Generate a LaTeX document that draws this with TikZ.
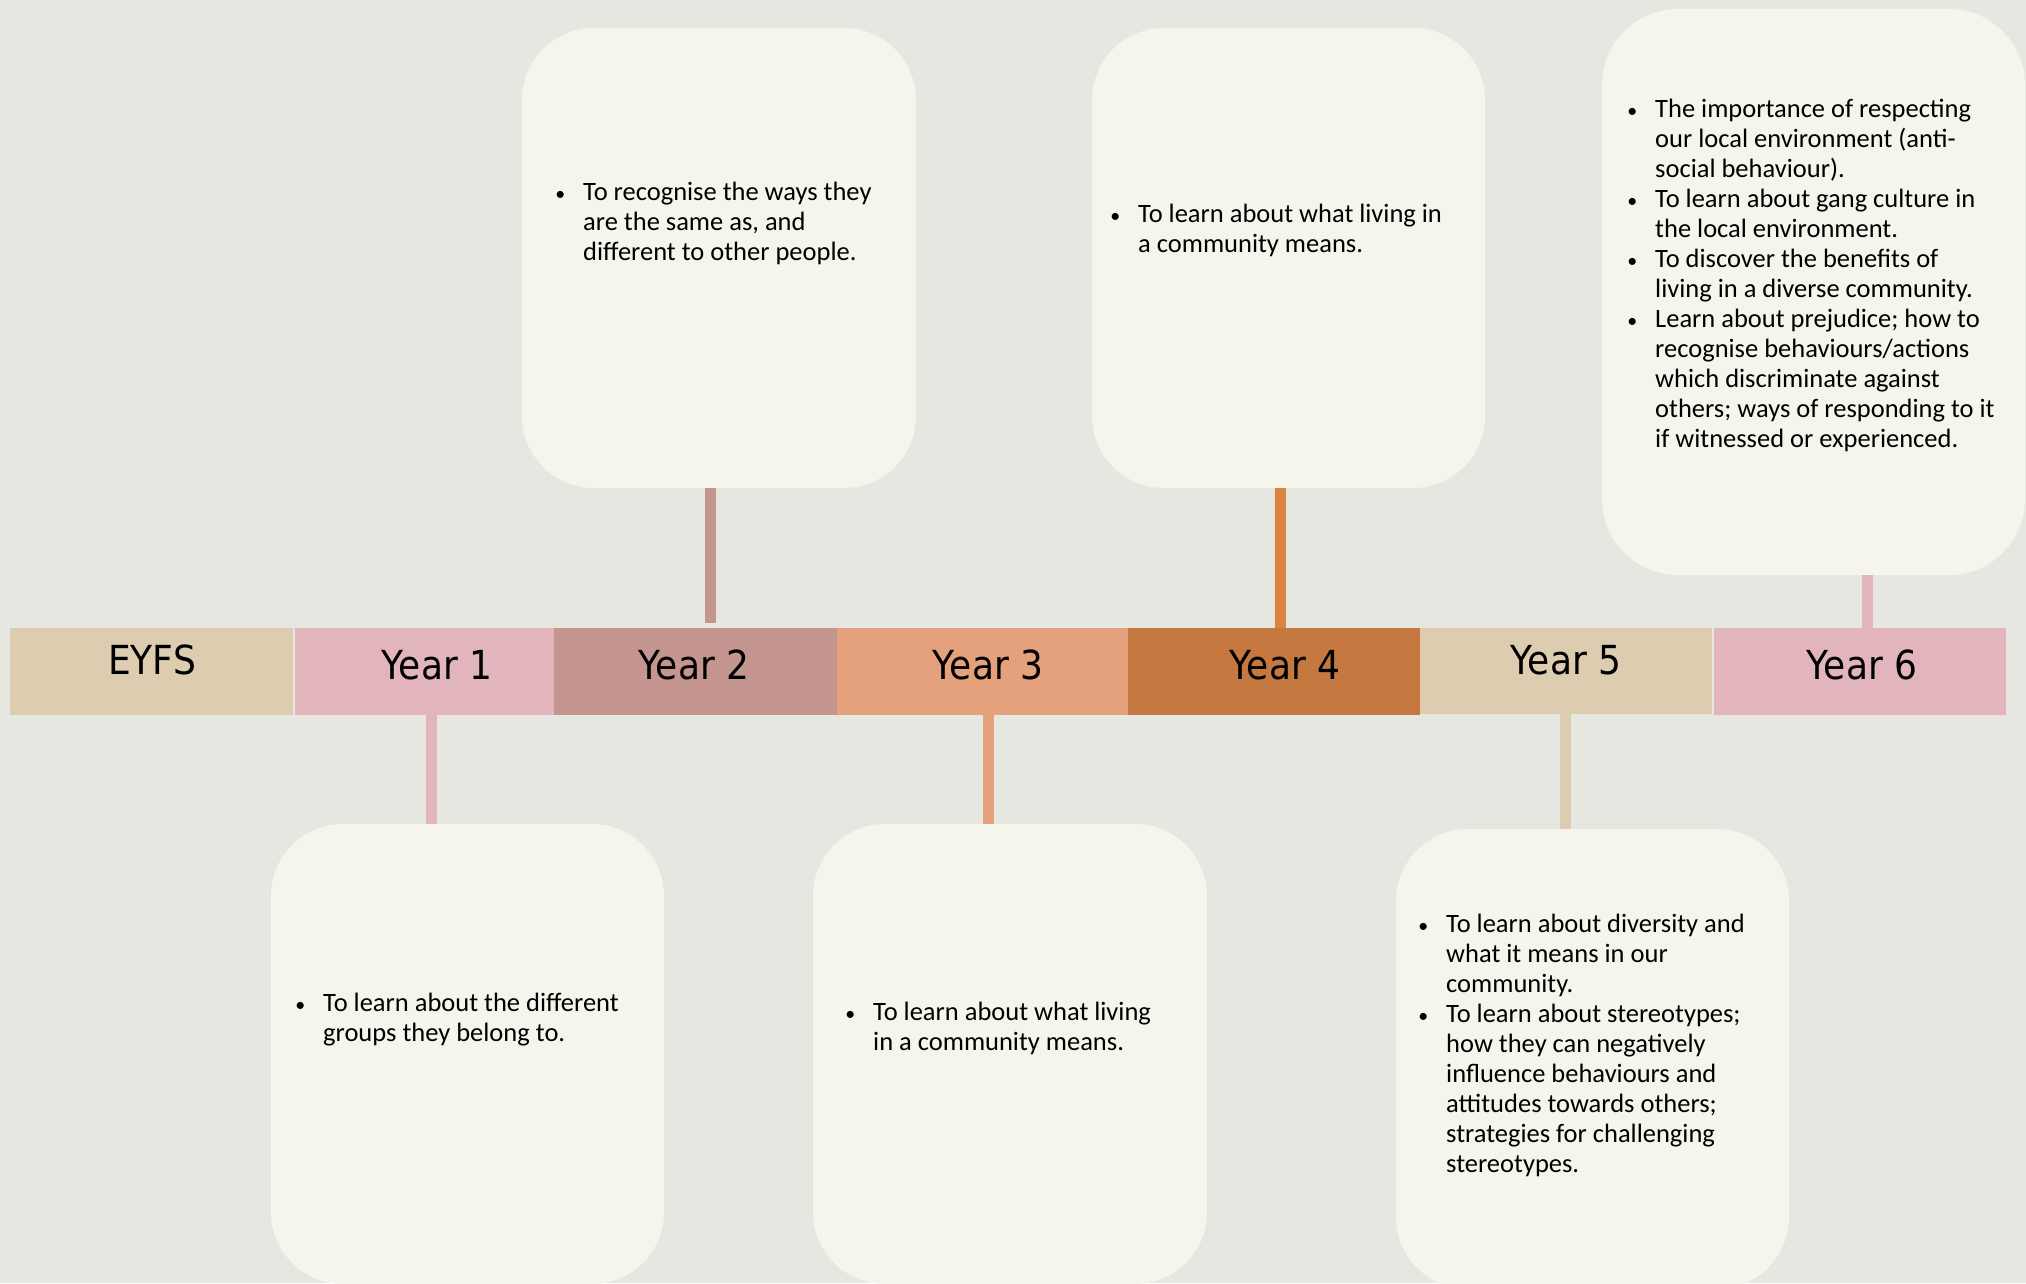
\documentclass[tikz,border=0pt]{standalone}
\usepackage{fontspec}
\setmainfont{Carlito}
\newfontfamily\labfont[FakeStretch=0.9]{DejaVu Sans}
\definecolor{bgc}{HTML}{E7E7E1}
\definecolor{boxc}{HTML}{F5F5EC}
\definecolor{tanc}{HTML}{DDCCAF}
\definecolor{pinkc}{HTML}{E2B5BC}
\definecolor{mauvec}{HTML}{C4968F}
\definecolor{salmonc}{HTML}{E5A07C}
\definecolor{rustc}{HTML}{C57840}
\definecolor{orangec}{HTML}{DB843E}
\newcommand\bitem{\makebox[0pt]{\scalebox{0.75}{\textbullet}}\hspace{23pt}}
\newcommand\ind{\hspace*{23pt}}
\newcommand\fs{\rule{0pt}{22pt}}
\begin{document}
\begin{tikzpicture}[x=1pt,y=-1pt,
  seg/.style={rectangle, inner sep=0pt, outer sep=0pt, minimum height=87pt, anchor=north west},
  box/.style={rectangle, rounded corners=72pt, fill=boxc, inner sep=0pt, outer sep=0pt, anchor=north west},
  txt/.style={anchor=north west, inner sep=0pt, align=left, text=black, font=\fontsize{26.5}{30}\selectfont},
  lab/.style={anchor=base, inner sep=0pt, text=black, font=\labfont\fontsize{40}{42}\selectfont},
  conn/.style={line width=11pt}]
\useasboundingbox (0,0) rectangle (2026,1283);
\clip (0,0) rectangle (2026,1283);
\fill[bgc] (0,0) rectangle (2026,1283);

% timeline segments
\node[seg, fill=tanc, minimum width=283pt] (s0) at (10,628) {};
\node[seg, fill=pinkc, minimum width=259pt] (s1) at (295,628) {};
\node[seg, fill=mauvec, minimum width=283pt] (s2) at (554,628) {};
\node[seg, fill=salmonc, minimum width=291pt] (s3) at (837,628) {};
\node[seg, fill=rustc, minimum width=292pt] (s4) at (1128,628) {};
\node[seg, fill=tanc, minimum width=292pt, minimum height=86pt] (s5) at (1420,628) {};
\node[seg, fill=pinkc, minimum width=292pt] (s6) at (1714,628) {};

\node[lab] (l0) at (152,674) {EYFS};
\node[lab] (l1) at (437,679) {Year 1};
\node[lab] (l2) at (694,679) {Year 2};
\node[lab] (l3) at (988,679) {Year 3};
\node[lab] (l4) at (1285,679) {Year 4};
\node[lab] (l5) at (1566,674) {Year 5};
\node[lab] (l6) at (1862,679) {Year 6};

% boxes
\node[box, minimum width=394pt, minimum height=460pt] (b2) at (522,28) {};
\node[box, minimum width=393pt, minimum height=460pt] (b4) at (1092,28) {};
\node[box, minimum width=423pt, minimum height=566pt, rounded corners=76pt] (b6) at (1602,9) {};
\node[box, minimum width=393pt, minimum height=460pt] (b1) at (271,824) {};
\node[box, minimum width=394pt, minimum height=460pt] (b3) at (813,824) {};
\node[box, minimum width=393pt, minimum height=460pt] (b5) at (1396,829) {};

% connector positions
\coordinate (x1) at (431,0);
\coordinate (x2) at (710,0);
\coordinate (x3) at (988,0);
\coordinate (x4) at (1280,0);
\coordinate (x5) at (1565,0);
\coordinate (x6) at (1867,0);

\draw[conn, pinkc] (s1.south -| x1) -- (b1.north -| x1);
\draw[conn, mauvec, shorten >=5pt] (b2.south -| x2) -- (s2.north -| x2);
\draw[conn, salmonc] (s3.south -| x3) -- (b3.north -| x3);
\draw[conn, orangec] (b4.south -| x4) -- (s4.north -| x4);
\draw[conn, tanc] (s5.south -| x5) -- (b5.north -| x5);
\draw[conn, pinkc] (b6.south -| x6) -- (s6.north -| x6);

% texts
\node[txt] (t2) at (560,178) {\fs\bitem To recognise the ways they\\
\ind are the same as, and\\
\ind different to other people.};
\node[txt] (t4) at (1115,200) {\fs\bitem To learn about what living in\\
\ind a community means.};
\node[txt] (t6) at (1632,95) {\fs\bitem The importance of respecting\\
\ind our local environment (anti-\\
\ind social behaviour).\\
\bitem To learn about gang culture in\\
\ind the local environment.\\
\bitem To discover the benefits of\\
\ind living in a diverse community.\\
\bitem Learn about prejudice; how to\\
\ind recognise behaviours/actions\\
\ind which discriminate against\\
\ind others; ways of responding to it\\
\ind if witnessed or experienced.};
\node[txt] (t1) at (300,989) {\fs\bitem To learn about the different\\
\ind groups they belong to.};
\node[txt] (t3) at (850,998) {\fs\bitem To learn about what living\\
\ind in a community means.};
\node[txt] (t5) at (1423,910) {\fs\bitem To learn about diversity and\\
\ind what it means in our\\
\ind community.\\
\bitem To learn about stereotypes;\\
\ind how they can negatively\\
\ind influence behaviours and\\
\ind attitudes towards others;\\
\ind strategies for challenging\\
\ind stereotypes.};
\end{tikzpicture}
\end{document}
